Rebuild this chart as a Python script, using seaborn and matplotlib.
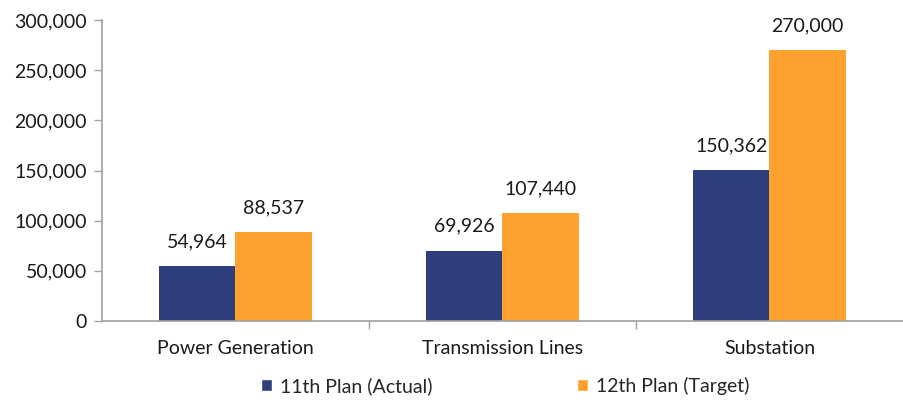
import matplotlib
matplotlib.use("Agg")
import matplotlib.pyplot as plt
import seaborn as sns
import pandas as pd
from matplotlib.ticker import FuncFormatter, FixedLocator
from matplotlib.patches import Patch

categories = ["Power Generation", "Transmission Lines", "Substation"]
series_names = ["11th Plan (Actual)", "12th Plan (Target)"]
actual_11 = [54964, 69926, 150362]
target_12 = [88537, 107440, 270000]
colors = ["#2F3F7E", "#FFA12E"]

df = pd.DataFrame({
    "Category": categories * 2,
    "Series": [series_names[0]] * 3 + [series_names[1]] * 3,
    "Value": actual_11 + target_12,
})

sns.set_theme(style="white")
plt.rcParams["font.family"] = ["Lato", "DejaVu Sans"]
FS = 14

fig = plt.figure(figsize=(9.04, 4.0), dpi=100)
ax = fig.add_axes([102/904, 1-321/400, (903-102)/904, (321-20)/400])

sns.barplot(data=df, x="Category", y="Value", hue="Series", palette=colors,
            width=0.57, gap=0, ax=ax, legend=False, saturation=1, linewidth=0)

for c in ax.containers:
    ax.bar_label(c, labels=[f"{v:,.0f}" for v in c.datavalues], padding=11.5,
                 fontsize=FS, color="#1a1a1a")

ax.set_xlim(-0.5, 2.5)
ax.set_ylim(0, 300000)
ax.yaxis.set_major_locator(FixedLocator(range(0, 300001, 50000)))
ax.yaxis.set_major_formatter(FuncFormatter(lambda v, p: f"{v:,.0f}"))
ax.set_xlabel("")
ax.set_ylabel("")

# category tick marks between groups, labels centered
ax.set_xticks([0.5, 1.5], minor=False)
ax.set_xticklabels([])
ax.set_xticks([0, 1, 2], minor=True)
ax.set_xticklabels(categories, minor=True)
ax.tick_params(axis="x", which="major", direction="out", length=6, width=1, color="#A0A0A0", bottom=True)
ax.tick_params(axis="x", which="minor", length=0, labelsize=FS, pad=14, labelcolor="#1a1a1a")
ax.tick_params(axis="y", direction="out", length=6, width=1, color="#A0A0A0", left=True,
               labelsize=FS, pad=5, labelcolor="#1a1a1a")

for s in ["top", "right"]:
    ax.spines[s].set_visible(False)
for s in ["left", "bottom"]:
    ax.spines[s].set_color("#A0A0A0")
    ax.spines[s].set_linewidth(1.2)

handles = [Patch(facecolor=colors[i], label=series_names[i]) for i in range(2)]
fig.legend(handles=handles, loc="center", bbox_to_anchor=(505/904, 1-386/400), ncol=2,
           frameon=False, fontsize=FS, handlelength=0.6, handleheight=0.6,
           handletextpad=0.4, columnspacing=7.4)

fig.savefig("out.png", dpi=100)
